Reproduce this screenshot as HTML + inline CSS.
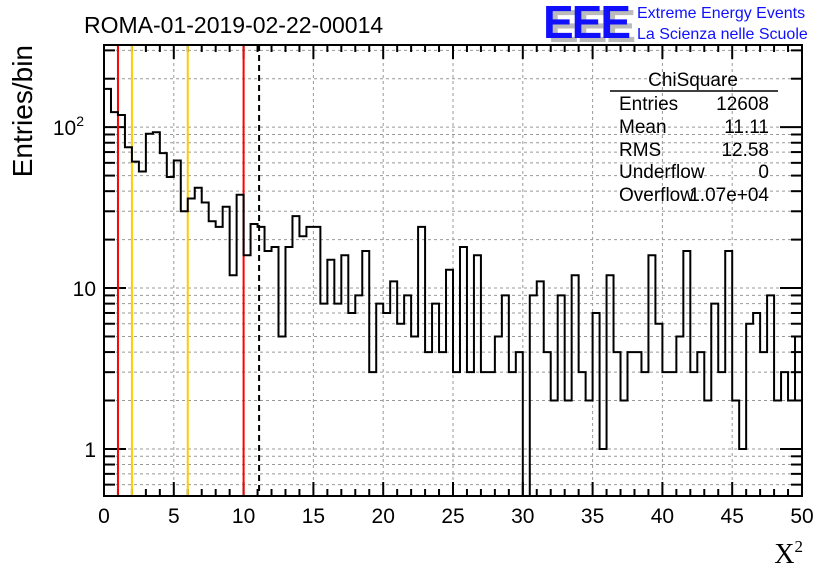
<!DOCTYPE html>
<html><head><meta charset="utf-8"><style>
body{margin:0;background:#fff;width:836px;height:572px;overflow:hidden}
svg{font-family:"Liberation Sans",sans-serif}
</style></head><body>
<svg id="c" width="836" height="572" viewBox="0 0 836 572">
<text x="84" y="33" font-size="23">ROMA-01-2019-02-22-00014</text>
<g>
<text x="548" y="42" font-size="46" font-weight="bold" fill="#bbb" letter-spacing="-2">EEE</text>
<text x="543" y="38" font-size="46" font-weight="bold" fill="#1010ff" letter-spacing="-2">EEE</text>
<text x="637" y="18" font-size="16" fill="#1010ff">Extreme Energy Events</text>
<text x="637" y="39" font-size="16" fill="#1010ff">La Scienza nelle Scuole</text>
</g>
<g id="grid"></g>
<g id="axes"></g>
<g id="marks"></g>
<g font-size="19">
<text x="693" y="86" text-anchor="middle">ChiSquare</text>
<line x1="610" y1="91" x2="778" y2="91" stroke="#000" stroke-width="1.5"/>
<text x="619" y="110">Entries</text><text x="769" y="110" text-anchor="end">12608</text>
<text x="619" y="133">Mean</text><text x="769" y="133" text-anchor="end">11.11</text>
<text x="619" y="156">RMS</text><text x="769" y="156" text-anchor="end">12.58</text>
<text x="619" y="178">Underflow</text><text x="769" y="178" text-anchor="end">0</text>
<text x="619" y="201">Overflow</text><text x="769" y="201" text-anchor="end">1.07e+04</text>
</g>
<text x="32" y="45" font-size="28" transform="rotate(-90 32 45)" text-anchor="end">Entries/bin</text>
<text x="803" y="563" font-size="28" font-family="Liberation Serif" text-anchor="end">X<tspan font-size="17" dy="-11">2</tspan></text>
</svg>
<script>
const binValues=[173,124,119,75,61,53,91,93,69,49,62,30,36,42,34,26,24,32,12,38,16,25,24,17,18,5,18,28,21,24,24,8,15,8,16,7,9,17,3,8,7,11,6,9,5,24,4,8,4,13,3,18,3,16,3,3,5,9,3,4,0,9,11,4,2,9,2,12,3,2,7,1,12,4,2,4,4,3,16,6,3,3,5,17,3,4,2,8,3,17,2,1,6,7,4,9,2,3,2,5];
const xTicks=[0,5,10,15,20,25,30,35,40,45,50];
const cutLines=[{x:1,c:"#f00"},{x:2,c:"#fc0"},{x:6,c:"#fc0"},{x:10,c:"#f00"}];
const meanValue=11.11;
const yDecades=[1,10,100];
const L=104,R=802,T=45,B=496,XMAX=50,YMIN=0.51,YMAX=324;
const ns="http://www.w3.org/2000/svg";
function X(v){return L+(R-L)*v/XMAX}
function Y(v){if(v<=0)return B;return B-(B-T)*(Math.log10(v)-Math.log10(YMIN))/(Math.log10(YMAX)-Math.log10(YMIN))}
function mk(tag,a,p){const e=document.createElementNS(ns,tag);for(const k in a)e.setAttribute(k,a[k]);p.appendChild(e);return e}
const grid=document.getElementById('grid'),marks=document.getElementById('marks'),axes=document.getElementById('axes');
xTicks.forEach(t=>{if(t>0&&t<XMAX){const g=mk('line',{x1:X(t),x2:X(t),y1:T,y2:B,stroke:'#999','stroke-dasharray':'3,3'},grid);

}});
const minor=[];for(let d=0.1;d<=100;d*=10){for(let m=1;m<10;m++){const v=Math.round(d*m*100)/100;if(v>YMIN&&v<YMAX)minor.push(v)}}
minor.forEach(v=>{const g=mk('line',{x1:L,x2:R,y1:Y(v),y2:Y(v),stroke:'#999','stroke-dasharray':'3,3'},grid);


const isMaj=yDecades.includes(v);const tl=isMaj?22:11;
const t1=mk('line',{x1:L,x2:L+tl,y1:Y(v),y2:Y(v),stroke:'#000','stroke-width':2},axes);


const t2=mk('line',{x1:R,x2:R-tl,y1:Y(v),y2:Y(v),stroke:'#000','stroke-width':2},axes);

});
const f=mk('rect',{x:L,y:T,width:R-L,height:B-T,fill:'none',stroke:'#000','stroke-width':2},axes);


for(let t=0;t<=XMAX;t+=1){const maj=t%5===0;const tl=maj?14:7;
const a=mk('line',{x1:X(t),x2:X(t),y1:B,y2:B-tl,stroke:'#000','stroke-width':2},axes);


const b=mk('line',{x1:X(t),x2:X(t),y1:T,y2:T+tl,stroke:'#000','stroke-width':2},axes);

}
xTicks.forEach(t=>{const tx=mk('text',{x:X(t),y:523,'font-size':21,'text-anchor':'middle'},axes);tx.textContent=t;

});
const yl=[["1",""],["10",""],["10","2"]];
yDecades.forEach((v,i)=>{const tx=mk('text',{x:96,y:Y(v)+8,'font-size':21,'text-anchor':'end'},axes);
tx.textContent=yl[i][0];
if(yl[i][1]){tx.setAttribute('x',84);const s=mk('tspan',{'font-size':14,dy:-9},tx);s.textContent=yl[i][1];}

});
cutLines.forEach(c=>{const l=mk('line',{x1:X(c.x),x2:X(c.x),y1:T+1,y2:B-1,stroke:c.c,'stroke-width':2},marks);

});
const ml=mk('line',{x1:X(meanValue),x2:X(meanValue),y1:T,y2:B,stroke:'#000','stroke-width':2,'stroke-dasharray':'6,4'},marks);


const bw=XMAX/binValues.length;let d='M'+X(0)+','+Y(binValues[0]);
binValues.forEach((v,i)=>{d+=' L'+X(i*bw)+','+Y(v)+' L'+X((i+1)*bw)+','+Y(v);});
const h=mk('path',{d:d,fill:'none',stroke:'#000','stroke-width':2},marks);


</script>
</body></html>
